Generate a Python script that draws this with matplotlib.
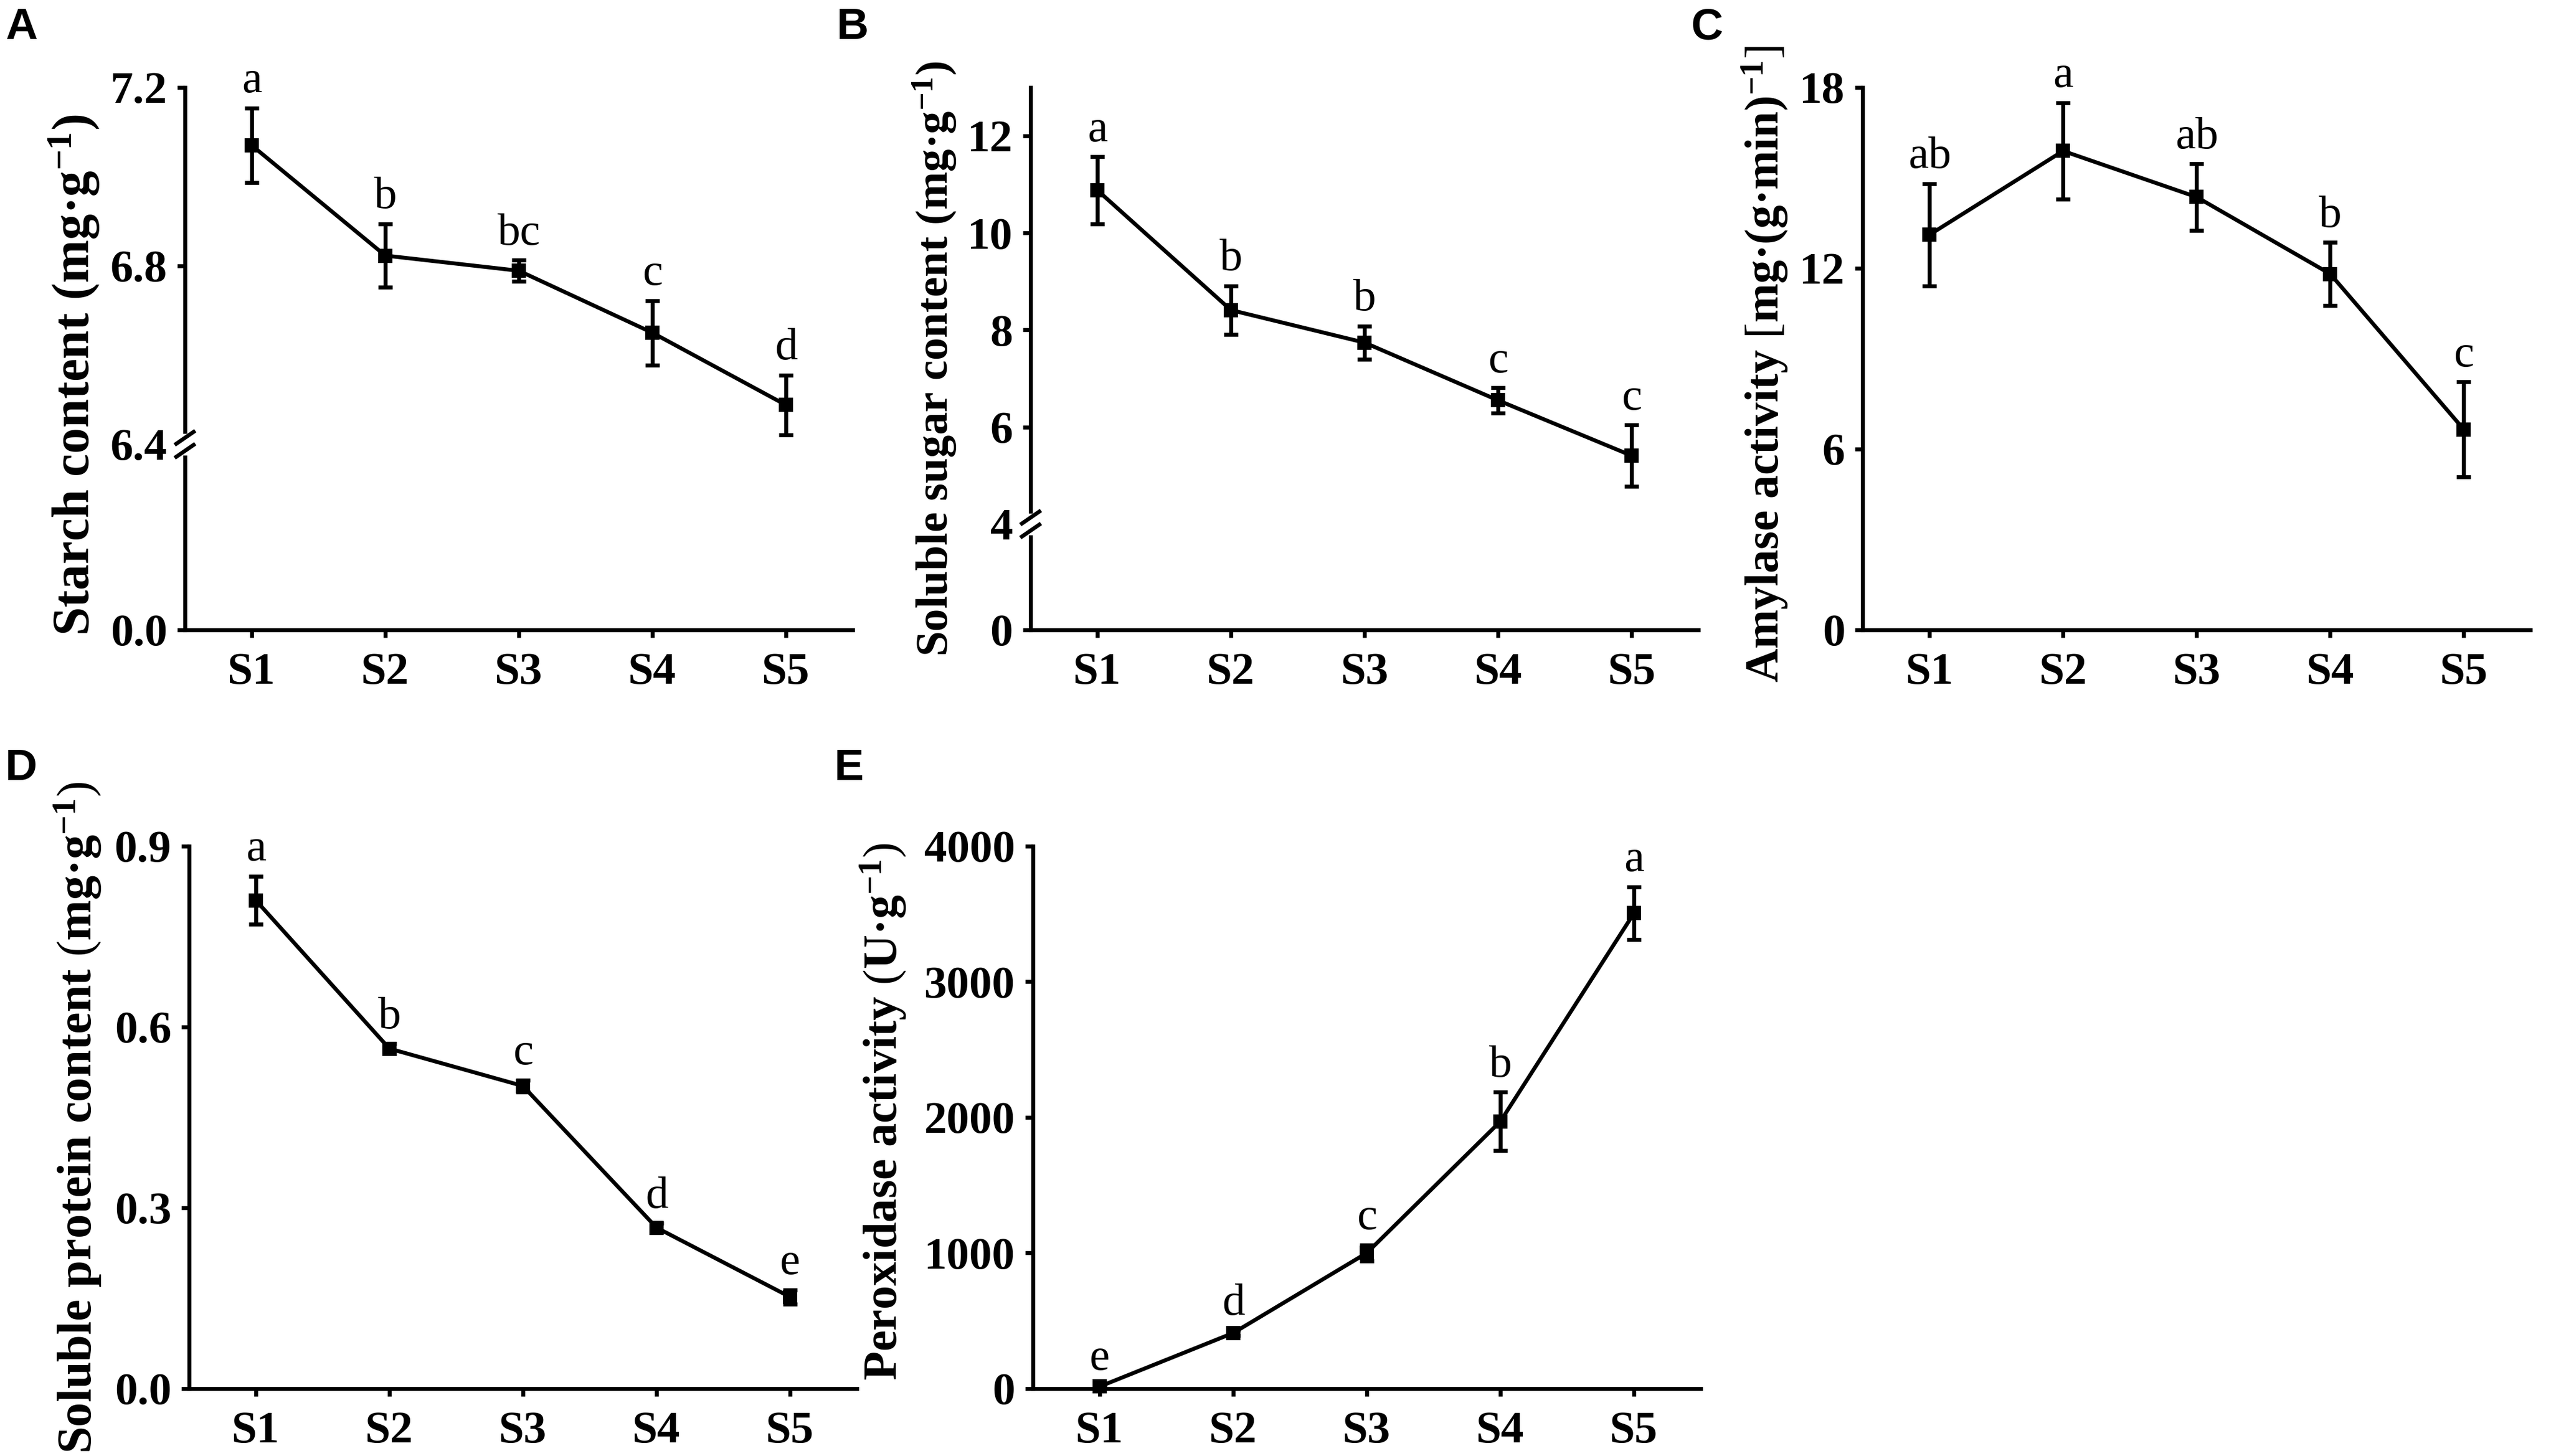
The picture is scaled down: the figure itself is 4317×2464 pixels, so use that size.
import numpy as np
import matplotlib
matplotlib.use('Agg')
import matplotlib.pyplot as plt

plt.rcParams['font.family'] = ['Liberation Serif', 'Noto Sans CJK SC']
plt.rcParams['mathtext.fontset'] = 'custom'
plt.rcParams['mathtext.rm'] = 'Liberation Serif:bold'
plt.rcParams['mathtext.bf'] = 'Liberation Serif:bold'
plt.rcParams['mathtext.it'] = 'Liberation Serif:bold'
plt.rcParams['mathtext.sf'] = 'Liberation Serif'
plt.rcParams['mathtext.default'] = 'bf'

# ---------------- data ----------------
stages = ['S1', 'S2', 'S3', 'S4', 'S5']

starch_mean = [7.070, 6.823, 6.789, 6.650, 6.488]
starch_err = [0.084, 0.071, 0.024, 0.072, 0.067]
starch_letters = ['a', 'b', 'bc', 'c', 'd']
starch_ticks = [0.0, 6.4, 6.8, 7.2]

sugar_mean = [10.88, 8.41, 7.74, 6.55, 5.41]
sugar_err = [0.69, 0.50, 0.34, 0.26, 0.63]
sugar_letters = ['a', 'b', 'b', 'c', 'c']
sugar_ticks = [0, 4, 6, 8, 10, 12]

amylase_mean = [13.11, 15.89, 14.36, 11.81, 6.65]
amylase_err = [1.70, 1.60, 1.10, 1.05, 1.58]
amylase_letters = ['ab', 'a', 'ab', 'b', 'c']
amylase_ticks = [0, 6, 12, 18]

protein_mean = [0.810, 0.564, 0.502, 0.267, 0.152]
protein_err = [0.040, 0.008, 0.010, 0.007, 0.012]
protein_letters = ['a', 'b', 'c', 'd', 'e']
protein_ticks = [0.0, 0.3, 0.6, 0.9]

pod_mean = [15, 410, 1000, 1970, 3505]
pod_err = [8, 20, 60, 215, 195]
pod_letters = ['e', 'd', 'c', 'b', 'a']
pod_ticks = [0, 1000, 2000, 3000, 4000]

# ---------------- style ----------------
TICK_FS = 18.5
LETTER_FS = 18.5
PANEL_FS = 18
LW = 1.6

fig = plt.figure(figsize=(4317 / 300, 2464 / 300), dpi=300)


def break_scale(b, top, frac):
    def fwd(y):
        y = np.asarray(y, dtype=float)
        return np.where(y <= b, y / b * frac, frac + (y - b) / (top - b) * (1 - frac))

    def inv(u):
        u = np.asarray(u, dtype=float)
        return np.where(u <= frac, u / frac * b, b + (u - frac) / (1 - frac) * (top - b))
    return fwd, inv


def panel(rect, mean, err, letters, ticks, ticklabels, ylim, ylabel, label_x,
          label_y=0.5, label_fs=21, brk=None):
    ax = fig.add_axes(rect)
    if brk is not None:
        b, frac = brk
        ax.set_yscale('function', functions=break_scale(b, ylim[1], frac))
    x = np.arange(1, len(stages) + 1)
    ax.errorbar(x, mean, yerr=err, color='black', lw=LW, marker='s', ms=5,
                capsize=2.9, capthick=LW, elinewidth=LW, zorder=3, clip_on=False)
    for xi, m, e, t in zip(x, mean, err, letters):
        ax.annotate(t, (xi, m + e), xytext=(0, 2.5), textcoords='offset points',
                    ha='center', va='bottom', fontsize=LETTER_FS,
                    family='Liberation Serif')
    ax.set_xlim(0.5, 5.5)
    ax.set_ylim(*ylim)
    ax.set_xticks(x)
    ax.set_xticklabels(stages, fontsize=TICK_FS, fontweight='bold')
    ax.set_yticks(ticks)
    ax.set_yticklabels(ticklabels, fontsize=TICK_FS, fontweight='bold')
    ax.yaxis.set_minor_locator(matplotlib.ticker.NullLocator())
    for s in ['top', 'right']:
        ax.spines[s].set_visible(False)
    for s in ['left', 'bottom']:
        ax.spines[s].set_linewidth(LW)
    ax.tick_params(axis='both', direction='out', length=3.2, width=LW, colors='black')
    ax.tick_params(axis='y', pad=4)
    ax.tick_params(axis='x', pad=6)
    ax.set_ylabel(ylabel, fontsize=label_fs, fontweight='bold')
    ax.yaxis.set_label_coords(label_x, label_y)
    if brk is not None:
        b, frac = brk
        idx = list(ticks).index(b)
        ax.yaxis.get_major_ticks()[idx].tick1line.set_visible(False)
        ax.plot([0, 0], [frac - 0.012, frac + 0.012], color='white', lw=3.5,
                transform=ax.transAxes, clip_on=False, zorder=5)
        for dy in (-0.012, 0.012):
            ax.plot([-0.013, 0.013], [frac + dy - 0.011, frac + dy + 0.011],
                    color='black', lw=LW, transform=ax.transAxes,
                    clip_on=False, zorder=6)
    return ax


W = 0.2618
H = 0.3726
TOP_B = 0.5674
BOT_B = 0.0463
panel([0.0725, TOP_B, W, H], starch_mean, starch_err, starch_letters,
      starch_ticks, ['0.0', '6.4', '6.8', '7.2'], (0, 7.2),
      'Starch content (mg·g$^{-1}$)', -0.125, label_y=0.47, label_fs=21,
      brk=(6.4, 0.342))
panel([0.4040, TOP_B, W, H], sugar_mean, sugar_err, sugar_letters,
      sugar_ticks, [str(t) for t in sugar_ticks], (0, 13),
      'Soluble sugar content (mg·g$^{-1}$)', -0.107, label_y=0.5, label_fs=18.5,
      brk=(4, 0.195))
panel([0.7302, TOP_B, W, H], amylase_mean, amylase_err, amylase_letters,
      amylase_ticks, [str(t) for t in amylase_ticks], (0, 18),
      r'Amylase activity $\mathsf{[}$mg·(g·min)$^{-1}$$\mathsf{]}$', -0.108,
      label_y=0.49, label_fs=19.1)
panel([0.0741, BOT_B, W, H], protein_mean, protein_err, protein_letters,
      protein_ticks, ['0.0', '0.3', '0.6', '0.9'], (0, 0.9),
      r'Soluble protein content $\mathsf{(}$mg·g$^{-1}$$\mathsf{)}$', -0.128,
      label_y=0.5, label_fs=19.8)
panel([0.4049, BOT_B, W, H], pod_mean, pod_err, pod_letters,
      pod_ticks, [str(t) for t in pod_ticks], (0, 4000),
      r'Peroxidase activity $\mathsf{(}$U·g$^{-1}$$\mathsf{)}$', -0.186,
      label_y=0.51, label_fs=19.3)

for lab, px, py in [('A', 0.002, 0.981), ('B', 0.328, 0.981), ('C', 0.663, 0.981),
                    ('D', 0.002, 0.472), ('E', 0.327, 0.472)]:
    fig.text(px, py, lab, fontsize=PANEL_FS, fontweight='bold',
             family='Liberation Sans', ha='left', va='center')

fig.savefig('out.png', dpi=300, facecolor='white')
